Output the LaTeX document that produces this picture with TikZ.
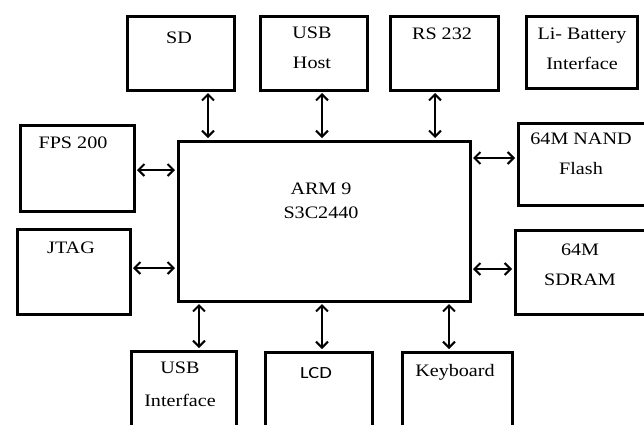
\documentclass[tikz,border=0pt]{standalone}
\usepackage{fontspec}
\setmainfont{Liberation Serif}[FakeStretch=1.15]
\newfontfamily\lcdfont{Carlito}[FakeStretch=1.2]
\usetikzlibrary{arrows.meta}
\begin{document}
\begin{tikzpicture}[x=1pt,y=-1pt,
  box/.style={draw, line width=3pt, inner sep=0pt, anchor=north west},
  lbl/.style={anchor=north, inner sep=0pt, align=center, font=\fontsize{17.5}{30}\selectfont},
  link/.style={line width=2pt, shorten <=1.5pt, shorten >=1.5pt,
    {Straight Barb[length=6pt,width=12pt]}-{Straight Barb[length=6pt,width=12pt]}}]
\useasboundingbox (0,0) rectangle (644,424);
\clip (0,0) rectangle (644,424);
% boxes
\node[box, minimum width=107pt, minimum height=74pt] (sd) at (125.5,14.5) {};
\node[box, minimum width=107pt, minimum height=74pt] (usbh) at (258.5,14.5) {};
\node[box, minimum width=108pt, minimum height=74pt] (rs) at (388.5,14.5) {};
\node[box, minimum width=111pt, minimum height=72pt] (li) at (524.5,14.5) {};
\node[box, minimum width=114pt, minimum height=86pt] (fps) at (18.5,123.5) {};
\node[box, minimum width=113pt, minimum height=85pt] (jtag) at (15.5,227.5) {};
\node[box, minimum width=292pt, minimum height=160pt] (arm) at (176.5,139.5) {};
\node[box, minimum width=132pt, minimum height=82pt] (nand) at (516.5,121.5) {};
\node[box, minimum width=135pt, minimum height=84pt] (sdram) at (513.5,228.5) {};
\node[box, minimum width=105pt, minimum height=80pt] (usbi) at (129.5,349.5) {};
\node[box, minimum width=107pt, minimum height=80pt] (lcd) at (263.5,350.5) {};
\node[box, minimum width=110pt, minimum height=80pt] (kb) at (400.5,350.5) {};
% labels
\node[lbl] (tsd) at (179,32) {SD};
\node[lbl] (tusbh) at (312,27) {USB\\Host};
\node[lbl] (trs) at (442,28) {RS 232};
\node[lbl] (tli) at (582,28) {Li- Battery\\Interface};
\node[lbl] (tfps) at (73,137) {FPS 200};
\node[lbl] (tjtag) at (71,242) {JTAG};
\node[lbl, font=\fontsize{17.5}{24}\selectfont] (tarm) at (321,183) {ARM 9\\S3C2440};
\node[lbl] (tnand) at (581,133) {64M NAND\\Flash};
\node[lbl] (tsdram) at (580,244) {64M\\SDRAM};
\node[lbl, font=\fontsize{17.5}{33}\selectfont] (tusbi) at (180,362) {USB\\Interface};
\node[lbl, font=\lcdfont\fontsize{17}{20}\selectfont] (tlcd) at (316,367) {LCD};
\node[lbl] (tkb) at (455,364) {Keyboard};
% connector positions
\coordinate (xsd) at (208,0);
\coordinate (xusbh) at (322,0);
\coordinate (xrs) at (435,0);
\coordinate (xusbi) at (199,0);
\coordinate (xlcd) at (322,0);
\coordinate (xkb) at (449,0);
\coordinate (yfps) at (0,170);
\coordinate (yjtag) at (0,268);
\coordinate (ynand) at (0,158);
\coordinate (ysdram) at (0,269);
% connectors
\draw[link] (xsd |- sd.south) -- (xsd |- arm.north);
\draw[link] (xusbh |- usbh.south) -- (xusbh |- arm.north);
\draw[link] (xrs |- rs.south) -- (xrs |- arm.north);
\draw[link] (fps.east |- yfps) -- (arm.west |- yfps);
\draw[link] (jtag.east |- yjtag) -- (arm.west |- yjtag);
\draw[link] (arm.east |- ynand) -- (nand.west |- ynand);
\draw[link] (arm.east |- ysdram) -- (sdram.west |- ysdram);
\draw[link] (xusbi |- arm.south) -- (xusbi |- usbi.north);
\draw[link] (xlcd |- arm.south) -- (xlcd |- lcd.north);
\draw[link] (xkb |- arm.south) -- (xkb |- kb.north);
\end{tikzpicture}
\end{document}
